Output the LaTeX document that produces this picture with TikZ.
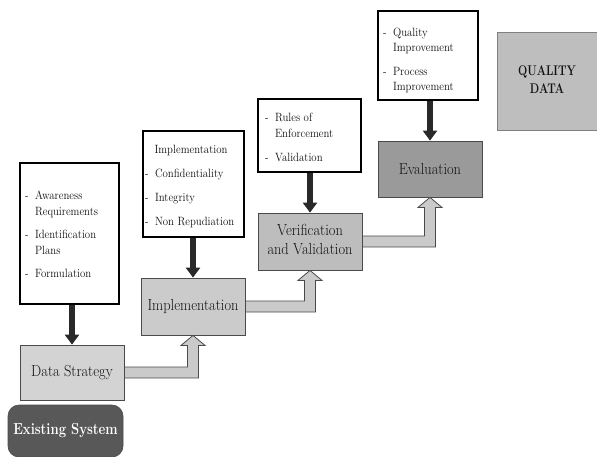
\documentclass[tikz,border=0pt]{standalone}
\usepackage{graphicx}
\usetikzlibrary{calc,arrows.meta}
\definecolor{dsfill}{HTML}{D3D3D3}
\definecolor{imfill}{HTML}{CBCBCB}
\definecolor{vvfill}{HTML}{BDBDBD}
\definecolor{evfill}{HTML}{9A9A9A}
\definecolor{qdfill}{HTML}{BEBEBE}
\definecolor{esfill}{HTML}{585858}
\definecolor{arfill}{HTML}{CACACA}
\definecolor{edge}{HTML}{4A4A4A}
\definecolor{ink}{HTML}{111111}
\newcommand{\nbig}[1]{\scalebox{0.9}[1]{#1}}
\newcommand{\nsmall}[1]{\scalebox{0.9}[1]{#1}}
\begin{document}
\begin{tikzpicture}[x=1pt,y=-1pt,
  stage/.style={draw=edge, line width=0.8pt, text=ink, minimum width=104pt, minimum height=56pt, inner sep=0pt, font=\fontsize{16}{19}\selectfont},
  listbox/.style={draw=black, line width=1.6pt, fill=white, inner sep=0pt},
  listtext/.style={inner sep=0pt, text=ink, font=\fontsize{12}{16}\selectfont},
  darrow/.style={draw=ink!90, line width=5.5pt, -{Triangle[width=14pt,length=10pt]}},
  barrow/.style={draw=edge, line width=0.8pt, fill=arfill},
]
\useasboundingbox (0,0) rectangle (597,456);

% white list boxes
\node[listbox, minimum width=99pt, minimum height=141pt] (b1) at (69.5,233.5) {};
\node[listbox, minimum width=101pt, minimum height=106pt] (b2) at (193.5,184) {};
\node[listbox, minimum width=103pt, minimum height=73pt] (b3) at (309.5,135.5) {};
\node[listbox, minimum width=100pt, minimum height=89pt] (b4) at (428,55.5) {};

\node[listtext, anchor=base west] (t1) at (25,199) {\nsmall{\begin{tabular}[t]{@{}l@{\hspace{7pt}}l@{}}
-&Awareness\\ &Requirements\\[7pt]
-&Identification\\ &Plans\\[7pt]
-&Formulation\end{tabular}}};
\node[listtext, anchor=base west] (t2) at (145,153) {\nsmall{\begin{tabular}[t]{@{}l@{\hspace{7pt}}l@{}}
\multicolumn{2}{@{}c@{}}{\hspace{3pt}Implementation}\\[8pt]
-&Confidentiality\\[8pt]
-&Integrity\\[8pt]
-&Non Repudiation\end{tabular}}};
\node[listtext, anchor=base west] (t3) at (265,121) {\nsmall{\begin{tabular}[t]{@{}l@{\hspace{7pt}}l@{}}
-&Rules of\\ &Enforcement\\[8pt]
-&Validation\end{tabular}}};
\node[listtext, anchor=base west, font=\fontsize{12}{15}\selectfont] (t4) at (383,36) {\nsmall{\begin{tabular}[t]{@{}l@{\hspace{7pt}}l@{}}
-&Quality\\ &Improvement\\[9pt]
-&Process\\ &Improvement\end{tabular}}};

% stage boxes
\node[stage, fill=dsfill, minimum height=55pt] (ds) at (72,372.5) {\nbig{Data Strategy}};
\node[stage, fill=imfill, minimum height=57pt] (im) at (193,306.5) {\nbig{Implementation}};
\node[stage, fill=vvfill, minimum height=57pt] (vv) at (310,241.5) {\nbig{\begin{tabular}{@{}c@{}}Verification\\and Validation\end{tabular}}};
\node[stage, fill=evfill] (ev) at (430,169) {\nbig{Evaluation}};
\node[draw=edge!70, line width=0.6pt, fill=qdfill, text=ink, minimum width=100pt, minimum height=98pt, inner sep=0pt, font=\fontsize{14}{18}\bfseries\selectfont] (qd) at (547,81) {\scalebox{0.78}[1]{\begin{tabular}{@{}c@{}}QUALITY\\DATA\end{tabular}}};
\node[draw=edge, line width=0.6pt, fill=esfill, text=white, rounded corners=11pt, minimum width=115pt, minimum height=52pt, inner sep=0pt, font=\fontsize{16}{19}\bfseries\selectfont] (es) at (65.5,431) {\scalebox{0.82}[1]{Existing System}};

% dark down arrows
\draw[darrow] (b1.south -| ds.north) -- (ds.north);
\draw[darrow] (b2.south -| im.north) -- (im.north);
\draw[darrow] (b3.south -| vv.north) -- (vv.north);
\draw[darrow] (b4.south -| ev.north) -- (ev.north);

% block arrows
\draw[barrow] let \p1=(ds.east), \p2=(im.south) in
  (\x1,{\y1+5.5pt}) -- ({\x2-5.5pt},{\y1+5.5pt}) -- ({\x2-5.5pt},{\y2-10pt}) -- ({\x2-12pt},{\y2-10pt}) -- (\x2,\y2)
  -- ({\x2+12pt},{\y2-10pt}) -- ({\x2+5.5pt},{\y2-10pt}) -- ({\x2+5.5pt},{\y1-5.5pt}) -- (\x1,{\y1-5.5pt}) -- cycle;
\draw[barrow] let \p1=(im.east), \p2=(vv.south) in
  (\x1,{\y1+5.5pt}) -- ({\x2-5.5pt},{\y1+5.5pt}) -- ({\x2-5.5pt},{\y2-10pt}) -- ({\x2-12pt},{\y2-10pt}) -- (\x2,\y2)
  -- ({\x2+12pt},{\y2-10pt}) -- ({\x2+5.5pt},{\y2-10pt}) -- ({\x2+5.5pt},{\y1-5.5pt}) -- (\x1,{\y1-5.5pt}) -- cycle;
\draw[barrow] let \p1=(vv.east), \p2=(ev.south) in
  (\x1,{\y1+5.5pt}) -- ({\x2-5.5pt},{\y1+5.5pt}) -- ({\x2-5.5pt},{\y2-10pt}) -- ({\x2-12pt},{\y2-10pt}) -- (\x2,\y2)
  -- ({\x2+12pt},{\y2-10pt}) -- ({\x2+5.5pt},{\y2-10pt}) -- ({\x2+5.5pt},{\y1-5.5pt}) -- (\x1,{\y1-5.5pt}) -- cycle;
\end{tikzpicture}
\end{document}
